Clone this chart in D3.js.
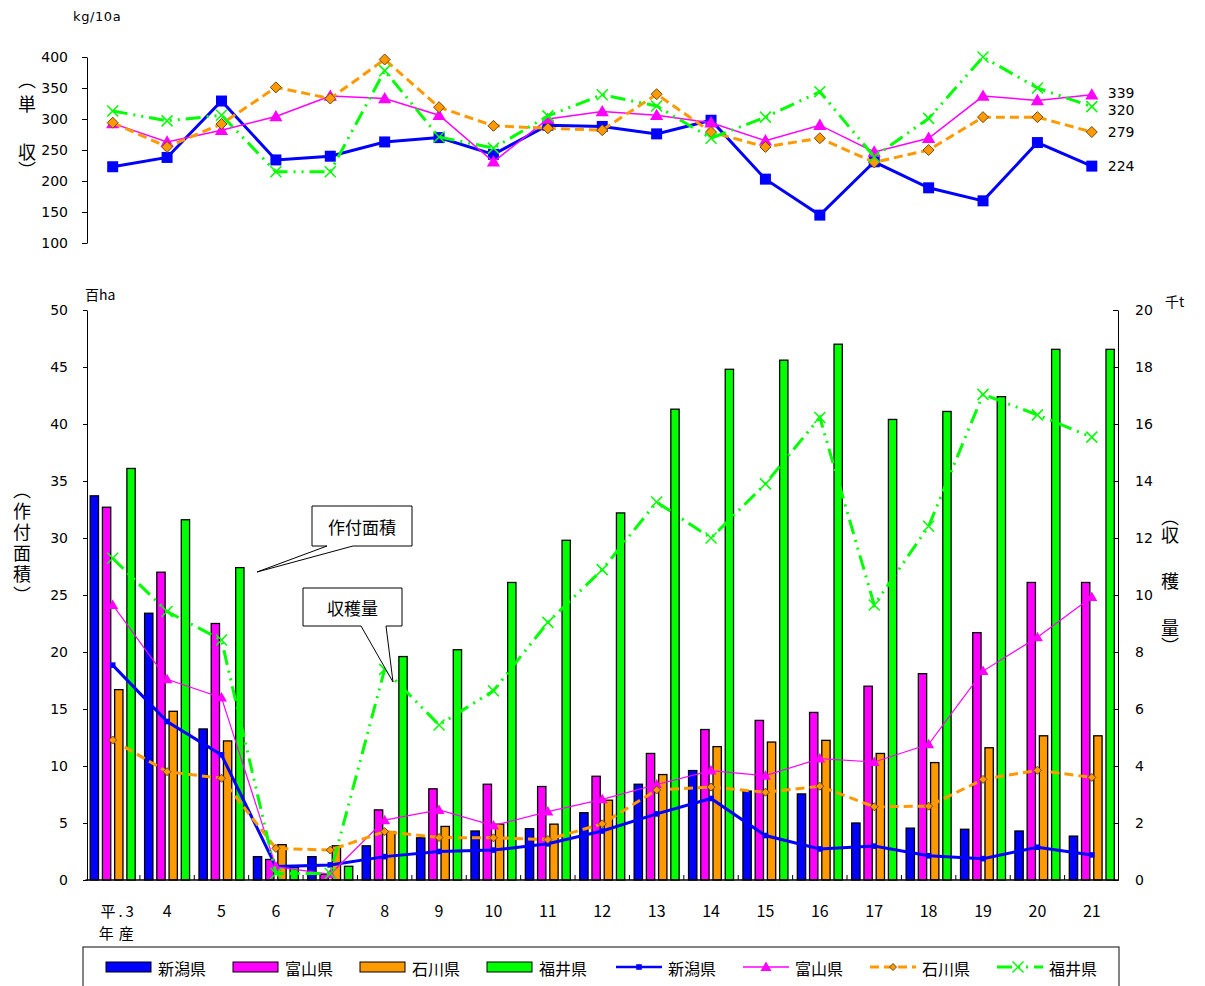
<!DOCTYPE html>
<html>
<head>
<meta charset="utf-8">
<script src="https://cdn.jsdelivr.net/npm/d3@7"></script>
<style>
  body { margin: 0; background: #fff; }
  text { font-family: "DejaVu Sans", sans-serif; fill: #000; }
  .jp { font-family: "Noto Sans CJK JP", sans-serif; }
  .vt { font-family: "Noto Sans CJK JP", sans-serif; writing-mode: vertical-rl; font-size: 18px; }
</style>
</head>
<body>
<div id="chart"></div>
<script>
(function(){

  // ---- data ----
  const categories = ["平.3","4","5","6","7","8","9","10","11","12","13","14","15","16","17","18","19","20","21"];
  const prefs = ["新潟県","富山県","石川県","福井県"];

  // 単収 kg/10a
  const yieldNiigata  = [223,238,329,234,240,263,270,243,290,288,276,298,203,145,231,189,168,262,224];
  const yieldToyama   = [293,263,282,304,337,333,306,231,300,312,306,294,265,290,247,269,337,330,339];
  const yieldIshikawa = [294,255,292,351,333,396,319,289,285,282,340,279,255,269,230,250,303,303,279];
  const yieldFukui    = [313,297,306,215,215,378,271,253,305,339,321,269,303,344,239,301,400,350,320];

  // 作付面積 百ha
  const areaNiigata  = [33.7,23.4,13.25,2.05,2.05,3.0,3.7,4.3,4.5,5.9,8.4,9.6,7.8,7.55,5.0,4.55,4.45,4.3,3.85];
  const areaToyama   = [32.7,27.0,22.5,1.8,0.5,6.15,8.0,8.4,8.2,9.1,11.1,13.2,14.0,14.7,17.0,18.1,21.7,26.1,26.1];
  const areaIshikawa = [16.7,14.8,12.2,3.1,3.0,4.25,4.7,4.9,4.9,7.0,9.25,11.7,12.1,12.25,11.1,10.3,11.6,12.65,12.65];
  const areaFukui    = [36.1,31.6,27.4,1.1,1.2,19.6,20.2,26.1,29.8,32.2,41.3,44.8,45.6,47.0,40.4,41.1,42.4,46.55,46.55];

  // 収穫量 千t
  const prodNiigata  = [7.54,5.56,4.39,0.47,0.53,0.82,1.0,1.05,1.27,1.72,2.32,2.86,1.56,1.09,1.19,0.85,0.75,1.15,0.88];
  const prodToyama   = [9.65,7.04,6.4,0.47,0.2,2.1,2.46,1.91,2.4,2.83,3.35,3.84,3.66,4.26,4.14,4.76,7.33,8.52,9.93];
  const prodIshikawa = [4.91,3.8,3.57,1.11,1.05,1.7,1.49,1.48,1.42,1.97,3.16,3.26,3.08,3.29,2.57,2.59,3.53,3.85,3.6];
  const prodFukui    = [11.29,9.42,8.42,0.23,0.23,7.39,5.44,6.64,9.04,10.89,13.26,12.0,13.9,16.23,9.65,12.41,17.04,16.32,15.54];

  const yieldTicks = [100,150,200,250,300,350,400];
  const areaTicks = [0,5,10,15,20,25,30,35,40,45,50];
  const prodTicks = [0,2,4,6,8,10,12,14,16,18,20];

  const colors = ["#0000ff","#ff00ff","#ff9900","#00ff00"];
  const yieldSeries = [yieldNiigata, yieldToyama, yieldIshikawa, yieldFukui];
  const areaSeries = [areaNiigata, areaToyama, areaIshikawa, areaFukui];
  const prodSeries = [prodNiigata, prodToyama, prodIshikawa, prodFukui];

  // line styles per prefecture
  const lineStyle = [
    {w:3,   dash:null,              marker:"square"},
    {w:1.5, dash:null,              marker:"triangle"},
    {w:3,   dash:"9,5",             marker:"diamond"},
    {w:3,   dash:"15,6,2,6,2,6",    marker:"x"}
  ];

  const width = 1205, height = 986;
  const svg = d3.select("#chart").append("svg")
    .attr("width", width).attr("height", height);

  // ---- scales ----
  const x0 = d3.scaleBand().domain(categories).range([85.5, 1119]).padding(0);
  const bw = x0.bandwidth();
  const x1 = d3.scaleBand().domain(prefs).range([(bw-45)/2, (bw+45)/2]).paddingInner(0.32);
  const xc = c => x0(c) + bw/2;

  const yTop = d3.scaleLinear().domain([100,400]).range([243,57]);
  const yArea = d3.scaleLinear().domain([0,50]).range([880,310]);
  const yProd = d3.scaleLinear().domain([0,20]).range([880,310]);

  // marker shapes
  function markerPath(type, s){
    if (type === "square") return `M${-s},${-s}H${s}V${s}H${-s}Z`;
    if (type === "triangle") return `M0,${-s*1.1}L${s*1.1},${s*0.8}L${-s*1.1},${s*0.8}Z`;
    if (type === "diamond") return `M0,${-s}L${s},0L0,${s}L${-s},0Z`;
    return `M${-s},${-s}L${s},${s}M${-s},${s}L${s},${-s}`;
  }
  function drawMarker(g, type, color, s){
    const p = g.append("path").attr("d", markerPath(type, s));
    if (type === "x") p.attr("fill","none").attr("stroke",color).attr("stroke-width",1.5);
    else if (type === "diamond") p.attr("fill",color).attr("stroke","#6b4a1a").attr("stroke-width",1);
    else p.attr("fill",color).attr("stroke","none");
    return p;
  }

  // vertical title: a single vertical-rl text, pieces with their own letter spacing
  function verticalTitle(g, x, y, pieces){
    const t = g.append("text").attr("class","vt").attr("x", x).attr("y", y);
    pieces.forEach(([s, ls]) => {
      t.append("tspan").style("letter-spacing", ls + "px").text(s);
    });
  }

  // ===================== top chart: 単収 =====================
  const top = svg.append("g");

  top.append("g")
    .attr("transform","translate(87,0)")
    .call(d3.axisLeft(yTop).tickValues(yieldTicks).tickSize(5).tickSizeOuter(0).tickPadding(14))
    .call(g => g.selectAll("text").style("font-size","14px").style("font-family","DejaVu Sans"))
    .call(g => g.selectAll("line,path").attr("stroke","#000"));

  top.append("text").attr("x",73).attr("y",21).style("font-size","13px")
    .style("letter-spacing","0.6px").text("kg/10a");

  verticalTitle(top, 27, 71, [["（",6],["単　",6],["収）",0]]);

  const topMarkerSize = [5.5, 6, 5.5, 5.5];
  yieldSeries.forEach((vals, i) => {
    const st = lineStyle[i];
    const line = d3.line().x((d,j) => xc(categories[j])).y(d => yTop(d));
    top.append("path").datum(vals)
      .attr("d", line).attr("fill","none")
      .attr("stroke", colors[i]).attr("stroke-width", st.w)
      .attr("stroke-dasharray", st.dash);
    vals.forEach((v,j) => {
      const g = top.append("g").attr("transform",`translate(${xc(categories[j])},${yTop(v)})`);
      drawMarker(g, st.marker, colors[i], topMarkerSize[i]);
    });
  });

  // last-value labels (339 and 320 sit close together, nudge apart a bit)
  const labelNudge = [0, -2, 0, 3];
  yieldSeries.forEach((vals, i) => {
    const v = vals[vals.length-1];
    top.append("text")
      .attr("x", xc(categories[categories.length-1]) + 16)
      .attr("y", yTop(v) + labelNudge[i]).attr("dominant-baseline","central")
      .style("font-size","14px").text(v);
  });

  // ===================== bottom chart =====================
  const bot = svg.append("g");

  // bars
  areaSeries.forEach((vals, i) => {
    bot.append("g").selectAll("rect")
      .data(vals).enter().append("rect")
      .attr("x", (d,j) => x0(categories[j]) + x1(prefs[i]))
      .attr("y", d => yArea(d))
      .attr("width", x1.bandwidth())
      .attr("height", d => yArea(0) - yArea(d))
      .attr("fill", colors[i])
      .attr("stroke","#000").attr("stroke-width",1.3);
  });

  // lines
  const botMarkerSize = [2.8, 5, 4, 5.5];
  prodSeries.forEach((vals, i) => {
    const st = lineStyle[i];
    const line = d3.line().x((d,j) => xc(categories[j])).y(d => yProd(d));
    bot.append("path").datum(vals)
      .attr("d", line).attr("fill","none")
      .attr("stroke", colors[i]).attr("stroke-width", i === 1 ? 1.2 : st.w)
      .attr("stroke-dasharray", st.dash);
    vals.forEach((v,j) => {
      const g = bot.append("g").attr("transform",`translate(${xc(categories[j])},${yProd(v)})`);
      drawMarker(g, st.marker, colors[i], botMarkerSize[i]);
    });
  });

  // left axis
  bot.append("g")
    .attr("transform","translate(87,0)")
    .call(d3.axisLeft(yArea).tickValues(areaTicks).tickSize(4).tickSizeOuter(0).tickPadding(15))
    .call(g => g.selectAll("text").style("font-size","14px").style("font-family","DejaVu Sans"))
    .call(g => g.selectAll("line,path").attr("stroke","#000"));

  // right axis
  bot.append("g")
    .attr("transform","translate(1118,0)")
    .call(d3.axisRight(yProd).tickValues(prodTicks).tickSize(-5).tickSizeOuter(0).tickPadding(17))
    .call(g => g.selectAll("text").style("font-size","14px").style("font-family","DejaVu Sans"))
    .call(g => g.selectAll("line,path").attr("stroke","#000"));

  // category axis
  bot.append("line").attr("x1",85.5).attr("x2",1119).attr("y1",880).attr("y2",880)
    .attr("stroke","#000").attr("stroke-width",1.5);
  bot.append("g").selectAll("line")
    .data(categories.slice(1)).enter().append("line")
    .attr("x1", d => x0(d)).attr("x2", d => x0(d))
    .attr("y1", 880).attr("y2", 875)
    .attr("stroke","#000");
  bot.append("g").selectAll("text")
    .data(categories).enter().append("text")
    .attr("class","jp")
    .attr("x", (d,j) => xc(d) + (j === 0 ? 6 : 0))
    .attr("y", 910).attr("text-anchor","middle").attr("dominant-baseline","central")
    .style("font-size", (d,j) => j === 0 ? "15px" : "16px")
    .style("letter-spacing", (d,j) => j === 0 ? "3px" : null)
    .text(d => d);
  bot.append("text").attr("class","jp")
    .attr("x", xc(categories[0]) + 6).attr("y", 932)
    .attr("text-anchor","middle").attr("dominant-baseline","central")
    .style("font-size","15px").style("letter-spacing","5px").text("年産");

  // units
  bot.append("text").attr("class","jp").attr("x",85).attr("y",300).style("font-size","14px").text("百ha");
  bot.append("text").attr("class","jp").attr("x",1165).attr("y",307).style("font-size","14px").text("千t");

  // axis titles
  verticalTitle(bot, 22, 481, [["（作付面積）",3]]);
  verticalTitle(bot, 1170, 508, [["（",0],["収穫",28.5],["量）",0]]);

  // callouts
  const callouts = [
    {text:"作付面積", x:312, y:506, w:100, h:40, b1:327, b2:353, tx:257, ty:572},
    {text:"収穫量",   x:303, y:588, w:99,  h:38, b1:361, b2:386, tx:393, ty:682}
  ];
  callouts.forEach(c => {
    const yb = c.y + c.h;
    bot.append("path")
      .attr("d", `M${c.x},${c.y}H${c.x+c.w}V${yb}H${c.b2}L${c.tx},${c.ty}L${c.b1},${yb}H${c.x}Z`)
      .attr("fill","#fff").attr("stroke","#000").attr("stroke-width",1);
    bot.append("text").attr("class","jp")
      .attr("x", c.x + c.w/2).attr("y", c.y + c.h/2)
      .attr("text-anchor","middle").attr("dominant-baseline","central")
      .style("font-size","17px").text(c.text);
  });

  // ===================== legend =====================
  const leg = svg.append("g");
  leg.append("rect").attr("x",83).attr("y",947).attr("width",1036).attr("height",60)
    .attr("fill","#fff").attr("stroke","#333").attr("stroke-width",1.2);

  prefs.forEach((p,i) => {
    const x = 106 + i*127;
    leg.append("rect").attr("x",x).attr("y",962).attr("width",45).attr("height",10)
      .attr("fill",colors[i]).attr("stroke","#000").attr("stroke-width",1);
    leg.append("text").attr("class","jp").attr("x",x+52).attr("y",968)
      .attr("dominant-baseline","central").style("font-size","16px").text(p);
  });
  prefs.forEach((p,i) => {
    const x = 106 + (i+4)*127 + 2;
    const st = lineStyle[i];
    leg.append("line").attr("x1",x).attr("x2",x+46).attr("y1",967).attr("y2",967)
      .attr("stroke",colors[i]).attr("stroke-width", i === 1 ? 1.5 : (i === 0 ? 2.5 : 3))
      .attr("stroke-dasharray", st.dash);
    const g = leg.append("g").attr("transform",`translate(${x + (i === 3 ? 21 : 23)},967)`);
    drawMarker(g, st.marker, colors[i], [2.8,5,3.5,5.5][i]);
    leg.append("text").attr("class","jp").attr("x",x+52).attr("y",968)
      .attr("dominant-baseline","central").style("font-size","16px").text(p);
  });

})();
</script>
</body>
</html>
